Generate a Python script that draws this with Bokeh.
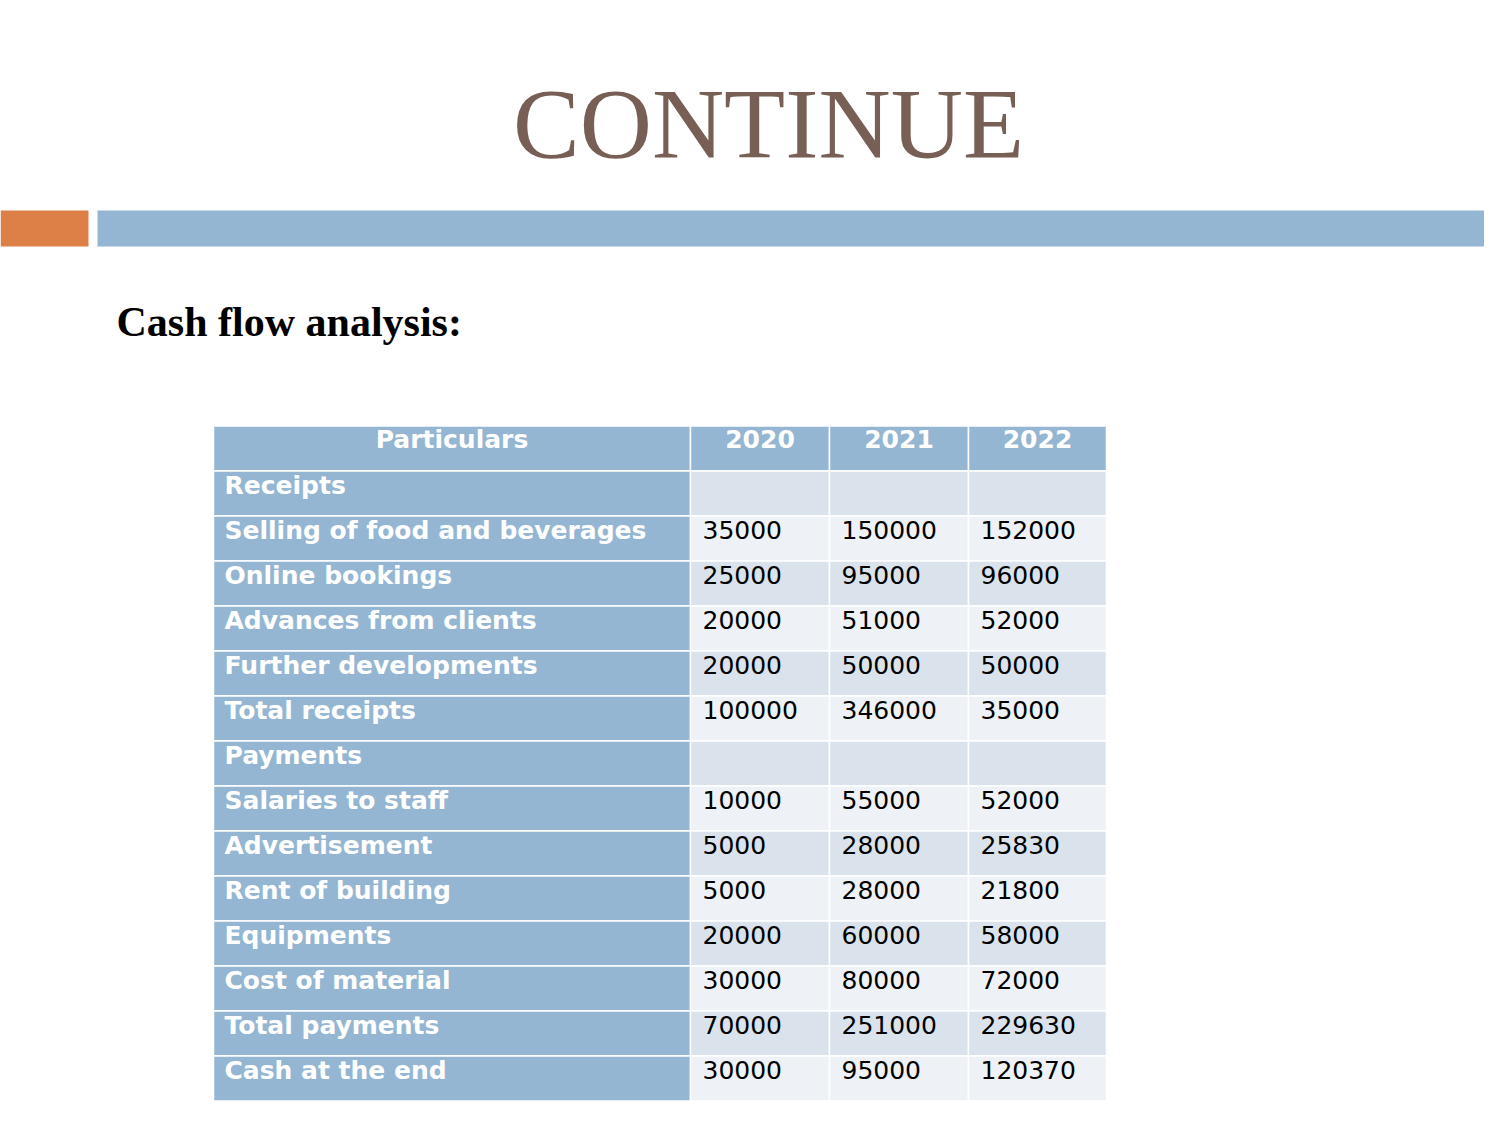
from bokeh.plotting import figure
from bokeh.models import Range1d, ColumnDataSource
from bokeh.core.properties import value
from bokeh.embed import file_html
from bokeh.resources import INLINE

# ---- data ----
slide_title = "CONTINUE"
subtitle = "Cash flow analysis:"
header = ["Particulars", "2020", "2021", "2022"]
particulars = ["Receipts", "Selling of food and beverages", "Online bookings",
               "Advances from clients", "Further developments", "Total receipts",
               "Payments", "Salaries to staff", "Advertisement", "Rent of building",
               "Equipments", "Cost of material", "Total payments", "Cash at the end"]
v2020 = ["", "35000", "25000", "20000", "20000", "100000", "", "10000", "5000", "5000",
         "20000", "30000", "70000", "30000"]
v2021 = ["", "150000", "95000", "51000", "50000", "346000", "", "55000", "28000", "28000",
         "60000", "80000", "251000", "95000"]
v2022 = ["", "152000", "96000", "52000", "50000", "35000", "", "52000", "25830", "21800",
         "58000", "72000", "229630", "120370"]

# ---- layout ----
W, H = 1484, 1109
p = figure(width=W, height=H, output_backend="svg", toolbar_location=None,
           x_range=Range1d(0, W), y_range=Range1d(H, 0),
           x_axis_location=None, y_axis_location=None, min_border=0,
           background_fill_color="white", border_fill_color="white")
p.grid.visible = False
p.outline_line_color = None

HEAD = "#94B6D2"
ORANGE = "#DD8047"
DARK = "#DAE3EC"
LIGHT = "#EEF2F6"

# decorative bars
p.quad(left=[0], right=[88], top=[210], bottom=[246], fill_color=ORANGE, line_color=None)
p.quad(left=[97], right=[1500], top=[210], bottom=[246], fill_color=HEAD, line_color=None)

# titles
p.text(x=[768], y=[123], text=[slide_title], text_align="center", text_baseline="alphabetic",
       text_font=value("Liberation Serif"), text_font_size="100px", text_color="#775F55")
p.text(x=[116], y=[321], text=[subtitle], text_align="left", text_baseline="alphabetic",
       text_font=value("Liberation Serif"), text_font_style="bold", text_font_size="42px",
       text_color="black")

# table geometry
cols = [213, 690, 829, 968, 1106]
top0 = 425.5
rh = 45.0
nrows = len(particulars) + 1

L, R, T, B, F = [], [], [], [], []
for r in range(nrows):
    t = top0 + r * rh
    for c in range(4):
        L.append(cols[c]); R.append(cols[c + 1]); T.append(t); B.append(t + rh)
        if r == 0 or c == 0:
            F.append(HEAD)
        else:
            F.append(DARK if r % 2 == 1 else LIGHT)
p.quad(source=ColumnDataSource(dict(left=L, right=R, top=T, bottom=B, fill=F)),
       left="left", right="right", top="top", bottom="bottom",
       fill_color="fill", line_color="white", line_width=1.5)

FS = "25px"
# header text
hx = [(cols[i] + cols[i + 1]) / 2 for i in range(4)]
p.text(x=hx, y=[top0 + 13] * 4, text=header, text_align="center", text_baseline="alphabetic",
       text_font=value("DejaVu Sans"), text_font_style="bold", text_font_size=FS,
       text_color="white")

# first column
ys = [top0 + (i + 1) * rh + 14 for i in range(len(particulars))]
p.text(x=[cols[0] + 11] * len(particulars), y=ys, text=particulars, text_align="left",
       text_baseline="alphabetic", text_font=value("DejaVu Sans"), text_font_style="bold",
       text_font_size=FS, text_color="white")

# values
for ci, vals in enumerate([v2020, v2021, v2022]):
    p.text(x=[cols[ci + 1] + 12] * len(vals), y=ys, text=vals, text_align="left",
           text_baseline="alphabetic", text_font=value("DejaVu Sans"),
           text_font_size=FS, text_color="black")

open("out.html", "w").write(file_html(p, INLINE))
